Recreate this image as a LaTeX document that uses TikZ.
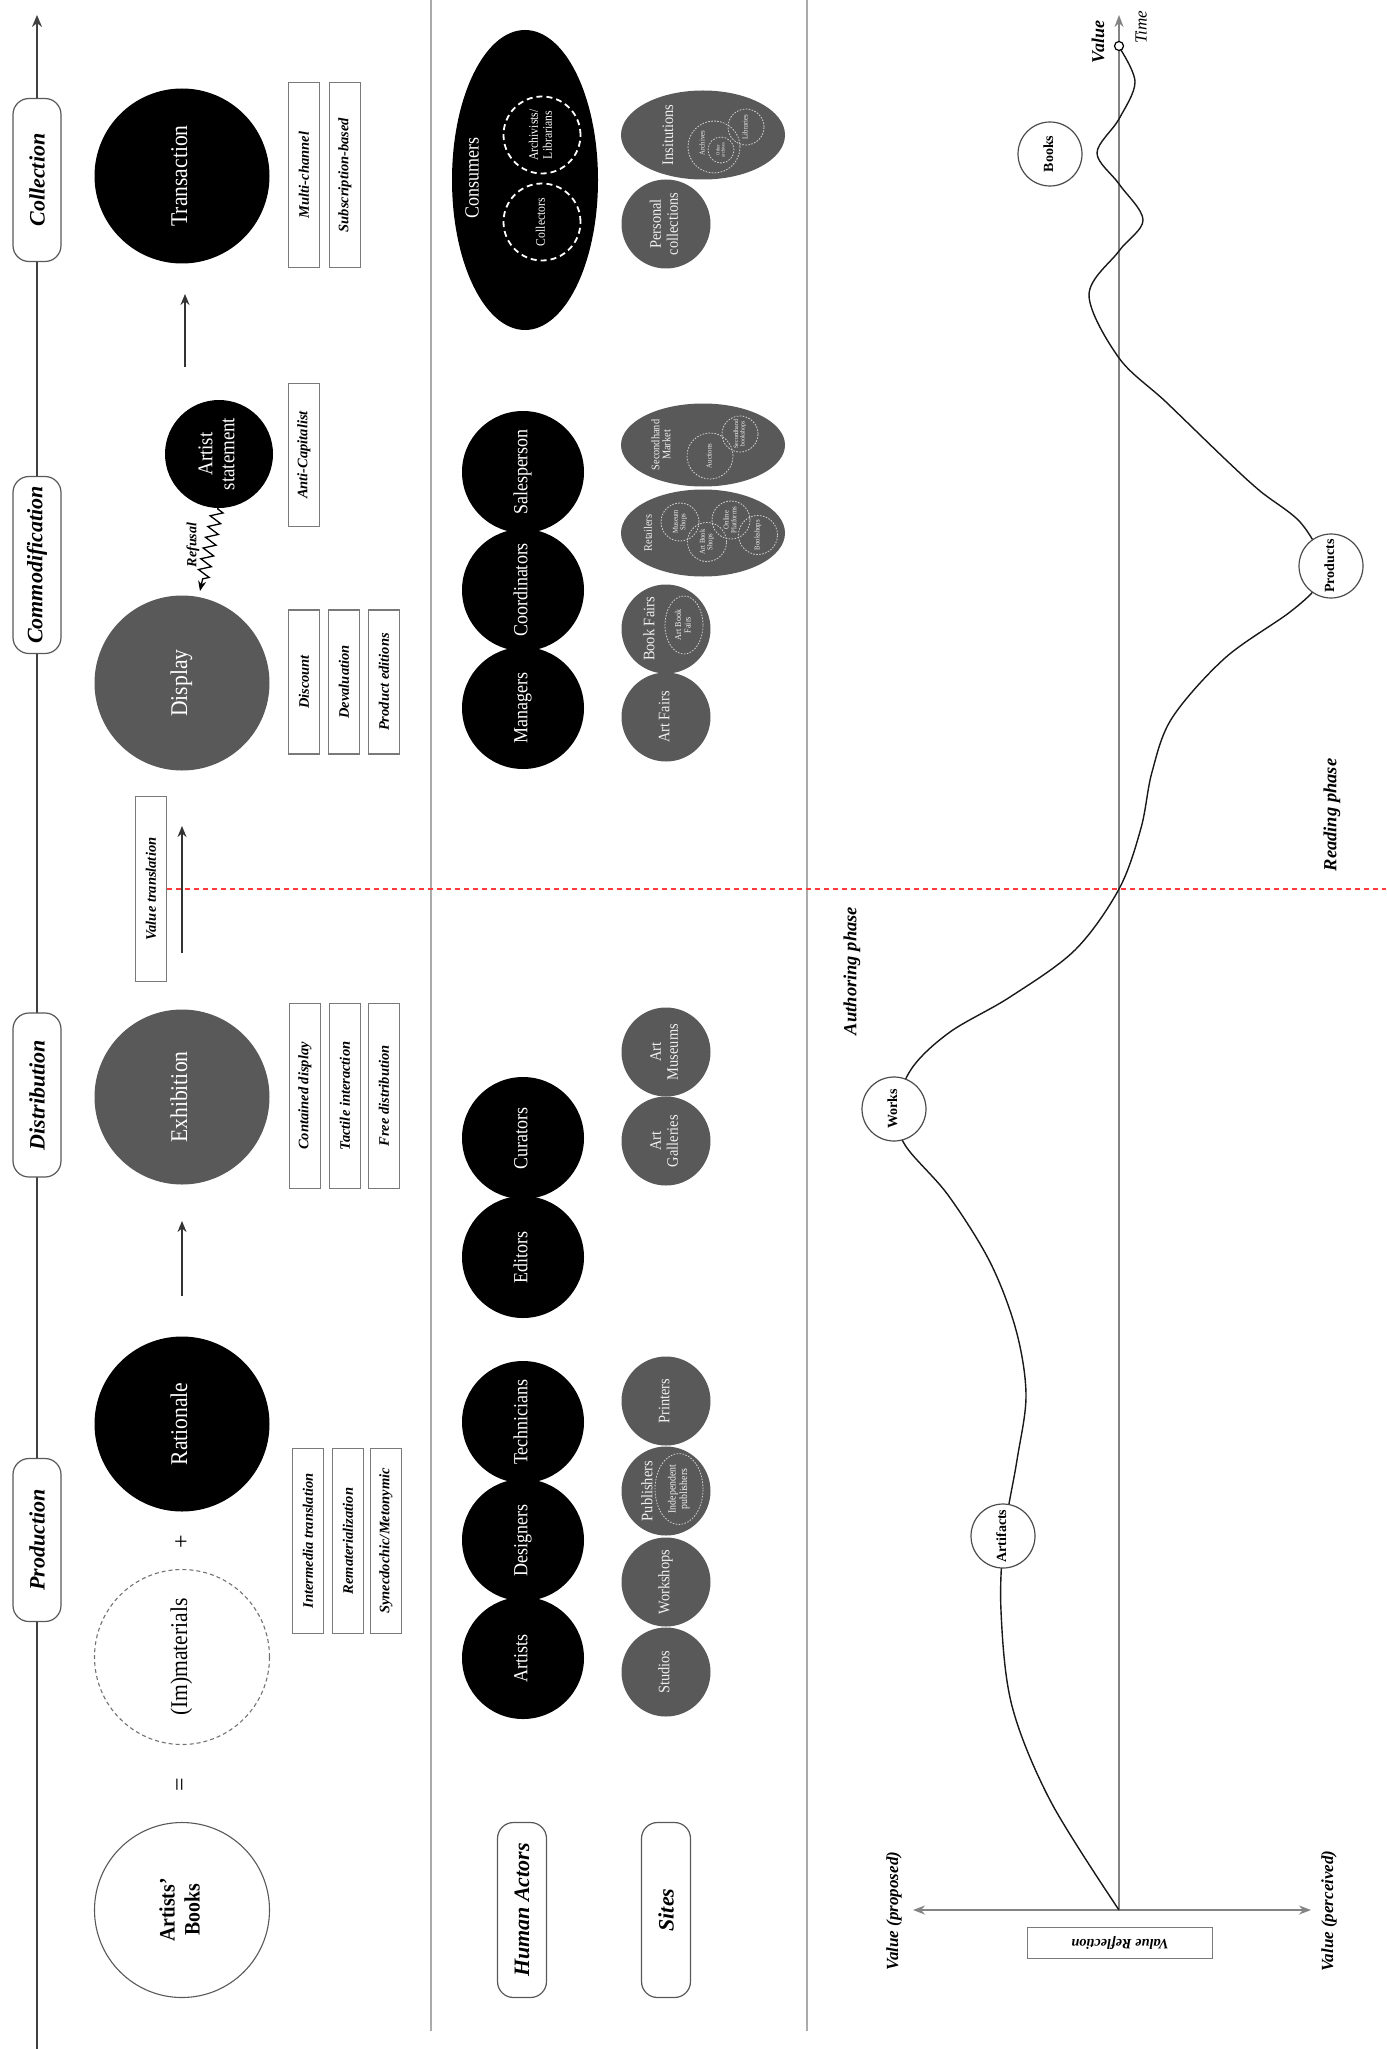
\documentclass[tikz,border=0pt]{standalone}
\usepackage{fontspec}
\usepackage{graphicx}
\setmainfont{Liberation Serif}
\newfontfamily\cond{Liberation Serif}[FakeStretch=0.9]
\usetikzlibrary{arrows.meta,decorations.pathmorphing,shapes.geometric}
\definecolor{dk}{HTML}{595959}
\definecolor{boxgray}{HTML}{7A7A7A}
\definecolor{sepgray}{HTML}{ABABAB}
\definecolor{axgray}{HTML}{838383}
\definecolor{redline}{HTML}{FF3B3B}
\newcommand\fsz[2]{\fontsize{#1}{#2}\selectfont}
\newcommand\rt[1]{\rotatebox{90}{\begin{tabular}{@{}c@{}}#1\end{tabular}}}
\begin{document}
\begin{tikzpicture}[x=1pt,y=-1pt,
  blk/.style={circle, fill=black, text=white, inner sep=0pt, outer sep=0pt, minimum size=175pt, font=\cond\fsz{24}{26}},
  drk/.style={blk, fill=dk},
  actor/.style={circle, fill=black, text=white, inner sep=0pt, minimum size=122pt, font=\cond\fsz{20}{22}},
  site/.style={circle, fill=dk, text=white!94!black, inner sep=0pt, minimum size=89pt, font=\cond\fsz{16}{17}},
  blob/.style={ellipse, fill=dk, inner sep=0pt, outer sep=0pt},
  sitelab/.style={rotate=90, text=white!94!black, align=center, inner sep=0pt},
  sub/.style={circle, draw=white!82!black, dash pattern=on 1.6pt off 1.4pt, line width=0.8pt, inner sep=0pt, text=white!94!black, font=\cond\fsz{7.5}{7.5}},
  cdash/.style={circle, draw=white, dash pattern=on 6pt off 4pt, line width=1.8pt, inner sep=0pt, minimum size=77pt, text=white, font=\cond\fsz{13}{14}},
  lbox/.style={draw=boxgray, line width=1.2pt, fill=white, rotate=90, minimum width=185pt, minimum height=31pt, inner sep=0pt, font=\fsz{14.5}{16}\bfseries\itshape},
  stage/.style={draw=black!65, line width=1.2pt, fill=white, rounded corners=16pt, rotate=90, minimum height=48pt, inner sep=0pt, font=\fsz{22}{24}\bfseries\itshape},
  arr/.style={-{Stealth[length=11pt,width=9pt]}, line width=1.6pt, black!80},
  sep/.style={draw=sepgray, line width=1.5pt},
  gaxis/.style={draw=axgray, line width=1.8pt},
  cur/.style={circle, draw=black!70, line width=1.2pt, fill=white, minimum size=64pt, inner sep=0pt, font=\fsz{14}{15}\bfseries},
  glab/.style={rotate=90, font=\bfseries\itshape}
]
\useasboundingbox (0,0) rectangle (1386,2049);
\fill[white] (0,0) rectangle (1386,2049);

% column separators
\draw[sep] (431,0) -- (431,2031);
\draw[sep] (807,0) -- (807,2031);

% phase boundary
\coordinate (rl0) at (167,889);
\coordinate (rl1) at (1386,889);
\draw[redline, line width=1.6pt, dash pattern=on 5pt off 4pt] (rl0) -- (rl1);

% ---------------- timeline of stages ----------------
\coordinate (tl0) at (37,2049);
\coordinate (tl1) at (37,15);
\draw[-{Stealth[length=12pt,width=10pt]}, line width=2pt, black!75] (tl0) -- (tl1);
\node[stage, minimum width=163pt] (scol) at (37,180) {Collection};
\node[stage, minimum width=177pt] (scom) at (37,565) {Commodification};
\node[stage, minimum width=164pt] (sdis) at (37,1095) {Distribution};
\node[stage, minimum width=163pt] (spro) at (37,1540) {Production};

% ---------------- first column: process ----------------
\node[blk] (trans) at (182,176) {\rt{Transaction}};
\node[lbox] (mc) at (304,175) {Multi-channel};
\node[lbox] (sb) at (345,175) {Subscription-based};

\coordinate (a3s) at (185,367);
\coordinate (a3e) at (185,294);
\draw[arr] (a3s) -- (a3e);

\node[blk, minimum size=108pt, font=\cond\fsz{21}{22}] (stmt) at (219,454) {\rt{Artist\\statement}};
\node[lbox, minimum width=143pt] (ac) at (304,455) {Anti-Capitalist};

\coordinate (zs) at (218,508);
\coordinate (ze) at (200,591);
\draw[decorate, decoration={zigzag, segment length=11pt, amplitude=6pt, pre length=1pt, post length=9pt},
      -{Stealth[length=10pt,width=8pt]}, line width=1.3pt] (zs) -- (ze);
\node[glab, font=\fsz{14}{15}\bfseries\itshape] (ref) at (193,545) {Refusal};

\node[drk] (disp) at (182,683) {\rt{Display}};
\node[lbox, minimum width=144pt] (dc) at (304,682) {Discount};
\node[lbox, minimum width=144pt] (dv) at (344,682) {Devaluation};
\node[lbox, minimum width=144pt] (pe) at (384,682) {Product editions};

\node[lbox] (vt) at (151,889) {Value translation};
\coordinate (a2s) at (182,953);
\coordinate (a2e) at (182,826);
\draw[arr] (a2s) -- (a2e);

\node[drk] (exh) at (182,1097) {\rt{Exhibition}};
\node[lbox] (cd) at (305,1096) {Contained display};
\node[lbox] (ti) at (345,1096) {Tactile interaction};
\node[lbox] (fd) at (384,1096) {Free distribution};

\coordinate (a1s) at (182,1296);
\coordinate (a1e) at (182,1221);
\draw[arr] (a1s) -- (a1e);

\node[blk] (rat) at (182,1424) {\rt{Rationale}};
\node[rotate=90, font=\fsz{24}{26}] (plus) at (182,1542) {+};
\node[circle, draw=black!55, dash pattern=on 4pt off 3pt, line width=1.1pt, minimum size=175pt, inner sep=0pt, font=\cond\fsz{24}{26}] (mat) at (182,1657) {\rt{(Im)materials}};
\node[rotate=90, font=\fsz{24}{26}] (eq) at (182,1785) {=};
\node[circle, draw=black!65, line width=1.1pt, fill=white, minimum size=175pt, inner sep=0pt, font=\cond\fsz{22}{25}\bfseries] (ab) at (182,1910) {\rt{Artists’\\Books}};

\node[lbox] (it) at (308,1541) {Intermedia translation};
\node[lbox] (rm) at (348,1541) {Rematerialization};
\node[lbox] (sm) at (386,1541) {Synecdochic/Metonymic};

% ---------------- second column: actors and sites ----------------
\node[ellipse, fill=black, minimum width=146pt, minimum height=300pt, inner sep=0pt] (cons) at (525,180) {};
\node[rotate=90, text=white, font=\cond\fsz{20}{22}] (consl) at (472,178) {Consumers};
\node[cdash] (coll) at (542,222) {\rt{Collectors}};
\node[cdash] (archl) at (542,135) {\rt{Archivists/\\Librarians}};

\node[actor] (sales) at (523,472) {\rt{Salesperson}};
\node[actor] (coord) at (523,590) {\rt{Coordinators}};
\node[actor] (mgr) at (523,708) {\rt{Managers}};
\node[actor] (cura) at (523,1138) {\rt{Curators}};
\node[actor] (edit) at (523,1257) {\rt{Editors}};
\node[actor] (tech) at (523,1422) {\rt{Technicians}};
\node[actor] (desi) at (523,1540) {\rt{Designers}};
\node[actor] (arts) at (523,1658) {\rt{Artists}};

% institutions
\node[blob, minimum width=164pt, minimum height=89pt] (inst) at (703,135) {};
\node[sitelab, font=\cond\fsz{16}{17}] (instl) at (668,135) {Insitutions};
\node[sub, minimum size=52pt] (archv) at (714,147) {};
\node[sitelab, font=\cond\fsz{7.5}{7.5}] (archvl) at (702,143) {Archives};
\node[sub, minimum size=26pt, font=\cond\fsz{5}{5}] (oarch) at (721,150) {\rt{Other\\archives}};
\node[sub, minimum size=36pt] (libr) at (746,127) {\rt{Libraries}};

\node[site] (pers) at (666,224) {\rt{Personal\\collections}};

% secondhand market
\node[blob, minimum width=164pt, minimum height=83pt] (shm) at (703,445) {};
\node[sitelab, font=\cond\fsz{11.5}{11}] (shml) at (661,445) {Secondhand\\Market};
\node[sub, minimum size=46pt] (auc) at (710,456) {\rt{Auctions}};
\node[sub, minimum size=36pt, font=\cond\fsz{6.5}{6.5}] (shb) at (740,434) {\rt{Secondhand\\bookshops}};

% retailers
\node[blob, minimum width=164pt, minimum height=87pt] (ret) at (703,533) {};
\node[sitelab, font=\cond\fsz{11.5}{11}] (retl) at (648,533) {Retailers};
\node[sub, minimum size=38pt] (mus) at (680,522) {\rt{Museum\\Shops}};
\node[sub, minimum size=39pt] (abs) at (707,542) {\rt{Art Book\\Shops}};
\node[sub, minimum size=38pt] (onl) at (731,520) {\rt{Online\\Platforms}};
\node[sub, minimum size=39pt] (bks) at (758,535) {\rt{Bookshops}};

% fairs
\node[site] (bf) at (666,629) {};
\node[sitelab, font=\cond\fsz{16}{17}] (bfl) at (649,629) {Book Fairs};
\node[sub, ellipse, minimum width=38pt, minimum height=58pt, font=\cond\fsz{9}{9.5}] (abf) at (684,625) {\rt{Art Book\\Fairs}};
\node[site] (af) at (666,717) {\rt{Art Fairs}};

\node[site] (amus) at (666,1052) {\rt{Art\\Museums}};
\node[site] (agal) at (666,1141) {\rt{Art\\Galleries}};

\node[site] (prin) at (666,1401) {\rt{Printers}};
\node[site] (publ) at (666,1491) {};
\node[sitelab, font=\cond\fsz{16}{17}] (publl) at (647,1491) {Publishers};
\node[sub, ellipse, minimum width=48pt, minimum height=71pt, font=\cond\fsz{11}{11.5}] (indp) at (679,1489) {\rt{Independent\\publishers}};
\node[site] (work) at (666,1582) {\rt{Workshops}};
\node[site] (stud) at (666,1672) {\rt{Studios}};

\node[stage, minimum width=175pt, minimum height=49pt] (ha) at (522,1910) {Human Actors};
\node[stage, minimum width=175pt, minimum height=49pt] (sites) at (666,1910) {Sites};

% ---------------- third column: value over time ----------------
\coordinate (orig) at (1119,1910);
\coordinate (ttip) at (1119,15);
\coordinate (vl) at (913,1910);
\coordinate (vr) at (1311,1910);
\draw[gaxis, -{Stealth[length=12pt,width=9pt]}] (orig) -- (ttip);
\draw[gaxis, {Stealth[length=12pt,width=9pt]}-{Stealth[length=12pt,width=9pt]}] (vl) -- (vr);

% value curve from proposed to perceived
\draw[line width=1.4pt, black!90] plot[smooth, tension=0.55] coordinates {
  (1119,1910) (1051,1802) (1012,1706) (1001,1611) (1004,1536) (1017,1460)
  (1026,1395) (1016,1330) (990,1262) (948,1195) (905,1145) (896,1110)
  (912,1068) (950,1032) (1010,997) (1075,950) (1119,889) (1141,828)
  (1152,772) (1172,718) (1225,658) (1290,612) (1318,585) (1322,560)
  (1300,522) (1260,491) (1225,459) (1166,402) (1119,358) (1089,295)
  (1119,251) (1143,220) (1119,184) (1097,153) (1119,119) (1135,82) (1119,47)};

\node[circle, draw=black, fill=white, line width=1.2pt, minimum size=9pt, inner sep=0pt] (v0) at (1119,46) {};

\node[cur] (books) at (1050,154) {\rt{Books}};
\node[cur] (prod) at (1331,566) {\rt{Products}};
\node[cur] (works) at (894,1109) {\rt{Works}};
\node[cur] (artf) at (1003,1536) {\rt{Artifacts}};

\node[glab, font=\fsz{18}{20}\bfseries\itshape] (val) at (1098,42) {Value};
\node[rotate=90, font=\fsz{17}{19}\itshape] (time) at (1141,27) {Time};
\node[glab, font=\fsz{18.5}{20}\bfseries\itshape] (auth) at (852,971) {Authoring phase};
\node[glab, font=\fsz{18.5}{20}\bfseries\itshape] (read) at (1332,815) {Reading phase};
\node[glab, font=\fsz{17}{19}\bfseries\itshape] (vprop) at (894,1911) {Value (proposed)};
\node[glab, font=\fsz{17}{19}\bfseries\itshape] (vperc) at (1329,1911) {Value (perceived)};
\node[draw=boxgray, line width=1.2pt, fill=white, rotate=180, minimum width=185pt, minimum height=31pt, inner sep=0pt, font=\fsz{14.3}{16}\bfseries\itshape] (vref) at (1120,1943) {Value Reflection};
\end{tikzpicture}
\end{document}
